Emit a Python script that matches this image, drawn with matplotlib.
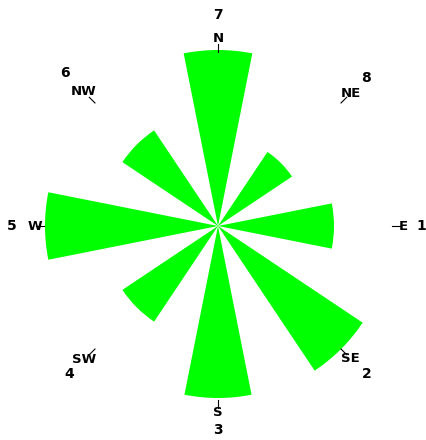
import numpy as np
import matplotlib
matplotlib.use("Agg")
import matplotlib.pyplot as plt

# ==========================
# DATA
# ==========================

directions = ["N", "NE", "E", "SE", "S", "SW", "W", "NW"]
numbers = ["7", "8", "1", "2", "3", "4", "5", "6"]
lengths = [176, 89, 116, 174, 172, 115, 173, 115]

angles = np.deg2rad(np.arange(0, 360, 45))

# label radii (layout only)
num_r = [211, 210, 203, 210, 204, 210, 206, 216]
lab_r = [187, 188, 185, 187, 186, 189, 183, 190]

# ==========================
# FIGURE
# ==========================

W, H = 426, 440
fig = plt.figure(figsize=(W / 100, H / 100), dpi=100)

cx, cy, R = 218, 226, 200
ax = fig.add_axes(
    [(cx - R) / W, (H - cy - R) / H, 2 * R / W, 2 * R / H],
    projection="polar"
)

ax.set_theta_zero_location("N")
ax.set_theta_direction(-1)
ax.set_ylim(0, R)

ax.bar(
    angles,
    lengths,
    width=np.deg2rad(22.5),
    bottom=0,
    color="#00ff00",
    edgecolor="none",
    align="center"
)

# ticks and labels
for a, d, n, rn, rl in zip(angles, directions, numbers, num_r, lab_r):
    ax.plot([a, a], [174, 182], color="black", lw=0.8, clip_on=False)
    ax.text(a, rl, d, ha="center", va="center", fontsize=9.5,
            fontweight="bold", clip_on=False)
    ax.text(a, rn, n, ha="center", va="center", fontsize=10,
            fontweight="bold", clip_on=False)

ax.grid(False)
ax.set_xticks([])
ax.set_yticks([])
ax.spines["polar"].set_visible(False)
ax.set_facecolor("none")

fig.savefig("out.png", dpi=100)
